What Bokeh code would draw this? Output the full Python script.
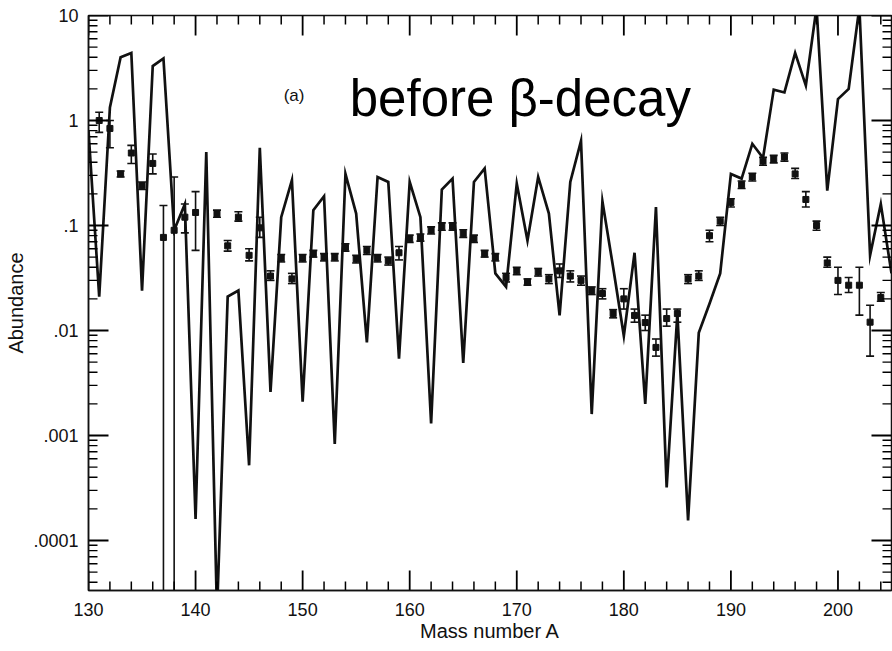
import math
from bokeh.plotting import figure
from bokeh.models import (ColumnDataSource, FixedTicker, CustomJSTickFormatter, Label, Range1d)
from bokeh.embed import file_html
from bokeh.resources import INLINE

# ---- calculated abundances (solid line), one per mass number ----
calc_mass = list(range(130, 206))
calc_abund = [0.8, 0.021, 1.33, 4.0, 4.4, 0.024, 3.3, 3.9, 0.09, 0.16,
              1.6e-4, 0.5, 2e-5, 0.021, 0.024, 5.2e-4, 0.55, 0.0026, 0.12, 0.27,
              0.0021, 0.14, 0.19, 8.3e-4, 0.31, 0.13, 0.0077, 0.29, 0.26, 0.0054,
              0.26, 0.12, 0.0013, 0.22, 0.28, 0.0049, 0.26, 0.35, 0.035, 0.026,
              0.25, 0.072, 0.29, 0.13, 0.0139, 0.26, 0.64, 0.0016, 0.17, 0.04,
              0.0089, 0.055, 0.002, 0.15, 3.2e-4, 0.0145, 1.55e-4, 0.0095, 0.018, 0.035,
              0.31, 0.28, 0.6, 0.44, 1.97, 1.85, 4.4, 2.15, 12.0, 0.215,
              1.6, 2.0, 12.0, 0.052, 0.16, 0.035]

# ---- observed solar r-process abundances (points with error bars) ----
obs_mass = [131, 132, 133, 134, 135, 136, 137, 138, 139, 140,
            142, 143, 144, 145, 146, 147, 148, 149, 150, 151,
            152, 153, 154, 155, 156, 157, 158, 159, 160, 161,
            162, 163, 164, 165, 166, 167, 168, 169, 170, 171,
            172, 173, 174, 175, 176, 177, 178, 179, 180, 181,
            182, 183, 184, 185, 186, 187, 188, 189, 190, 191,
            192, 193, 194, 195, 196, 197, 198, 199, 200, 201,
            202, 203, 204]
obs_abund = [1.0, 0.84, 0.31, 0.49, 0.24, 0.39, 0.077, 0.09, 0.12, 0.133,
             0.13, 0.064, 0.12, 0.052, 0.095, 0.033, 0.049, 0.031, 0.049, 0.054,
             0.05, 0.05, 0.062, 0.048, 0.058, 0.049, 0.046, 0.055, 0.075, 0.077,
             0.09, 0.098, 0.098, 0.084, 0.075, 0.054, 0.05, 0.032, 0.037, 0.029,
             0.036, 0.031, 0.037, 0.033, 0.030, 0.024, 0.0225, 0.0145, 0.02, 0.0139,
             0.0119, 0.0069, 0.013, 0.0145, 0.031, 0.033, 0.08, 0.11, 0.166, 0.245,
             0.29, 0.41, 0.43, 0.45, 0.31, 0.177, 0.1, 0.044, 0.03, 0.027,
             0.027, 0.012, 0.0206]
obs_low = [0.77, 0.55, 0.29, 0.39, 0.22, 0.31, 1e-6, 1e-6, 0.085, 0.058,
           0.12, 0.057, 0.11, 0.046, 0.077, 0.030, 0.045, 0.028, 0.045, 0.050,
           0.046, 0.046, 0.057, 0.044, 0.053, 0.045, 0.042, 0.047, 0.069, 0.071,
           0.083, 0.090, 0.090, 0.077, 0.069, 0.050, 0.046, 0.029, 0.034, 0.027,
           0.033, 0.028, 0.032, 0.029, 0.027, 0.022, 0.020, 0.0132, 0.016, 0.012,
           0.010, 0.0057, 0.011, 0.012, 0.028, 0.030, 0.070, 0.10, 0.15, 0.225,
           0.265, 0.375, 0.395, 0.41, 0.28, 0.15, 0.09, 0.040, 0.022, 0.023,
           0.014, 0.0057, 0.019]
obs_high = [1.2, 1.0, 0.33, 0.58, 0.26, 0.48, 0.155, 0.29, 0.16, 0.21,
            0.14, 0.072, 0.135, 0.060, 0.12, 0.037, 0.053, 0.035, 0.053, 0.058,
            0.054, 0.054, 0.067, 0.052, 0.063, 0.053, 0.050, 0.063, 0.081, 0.083,
            0.097, 0.106, 0.106, 0.091, 0.081, 0.058, 0.054, 0.035, 0.040, 0.031,
            0.039, 0.034, 0.043, 0.037, 0.033, 0.026, 0.025, 0.0158, 0.025, 0.016,
            0.014, 0.0083, 0.016, 0.016, 0.034, 0.037, 0.090, 0.12, 0.18, 0.265,
            0.315, 0.445, 0.465, 0.49, 0.35, 0.21, 0.11, 0.050, 0.040, 0.032,
            0.040, 0.0174, 0.023]

# ---- axis ticks ----
x_major_ticks = [130, 140, 150, 160, 170, 180, 190, 200]
x_minor_ticks = [132, 134, 136, 138, 142, 144, 146, 148, 152, 154, 156, 158,
                 162, 164, 166, 168, 172, 174, 176, 178, 182, 184, 186, 188,
                 192, 194, 196, 198, 202, 204]
y_major_ticks = [1e-4, 1e-3, 1e-2, 1e-1, 1, 10]
y_minor_ticks = [m * d for d in [1e-5, 1e-4, 1e-3, 1e-2, 1e-1, 1] for m in range(2, 10)]

X_MIN, X_MAX = 130, 205
Y_MIN, Y_MAX = 3.34e-5, 10

W, H = 892, 651
B_LEFT, B_RIGHT, B_TOP, B_BOTTOM = 88, 1, 15, 61
FRAME_W = W - B_LEFT - B_RIGHT
FRAME_H = H - B_TOP - B_BOTTOM

INK = "#111111"
FONT = "Liberation Sans"

p = figure(width=W, height=H,
           x_range=Range1d(X_MIN, X_MAX), y_range=Range1d(Y_MIN, Y_MAX),
           y_axis_type="log", output_backend="svg", toolbar_location=None,
           min_border_left=B_LEFT, min_border_right=B_RIGHT,
           min_border_top=B_TOP, min_border_bottom=B_BOTTOM,
           x_axis_label="Mass number A", y_axis_label="Abundance")
p.background_fill_color = "white"
p.border_fill_color = "white"
p.grid.visible = False
p.outline_line_color = INK
p.outline_line_width = 1.5

yfmt = CustomJSTickFormatter(code="""
const e = Math.round(Math.log10(tick));
if (e >= 0) return String(Math.round(Math.pow(10, e)));
return '.' + '0'.repeat(-e - 1) + '1';
""")

for ax in (p.xaxis[0], p.yaxis[0]):
    ax.major_tick_in = 0
    ax.major_tick_out = 0
    ax.minor_tick_in = 0
    ax.minor_tick_out = 0
    ax.axis_line_color = INK
    ax.axis_line_width = 1.5
    ax.major_label_text_font = FONT
    ax.major_label_text_font_size = "18px"
    ax.major_label_text_color = INK
    ax.axis_label_text_font = FONT
    ax.axis_label_text_font_size = "20px"
    ax.axis_label_text_font_style = "normal"
    ax.axis_label_text_color = INK

p.xaxis[0].ticker = FixedTicker(ticks=x_major_ticks)
p.xaxis[0].major_label_standoff = 12
p.xaxis[0].axis_label_standoff = 1
p.yaxis[0].ticker = FixedTicker(ticks=y_major_ticks)
p.yaxis[0].formatter = yfmt
p.yaxis[0].major_label_standoff = 10
p.yaxis[0].axis_label_standoff = 3

# ---- data ----
calc_src = ColumnDataSource(dict(A=calc_mass, y=calc_abund))
p.line("A", "y", source=calc_src, line_color=INK, line_width=2.7, line_join="miter")

obs_src = ColumnDataSource(dict(A=obs_mass, y=obs_abund, lo=obs_low, hi=obs_high))
p.segment(x0="A", y0="lo", x1="A", y1="hi", source=obs_src, line_color=INK, line_width=1.6)
p.scatter("A", "hi", source=obs_src, marker="dash", size=8, line_color=INK, line_width=1.6)
p.scatter("A", "lo", source=obs_src, marker="dash", size=8, line_color=INK, line_width=1.6)
p.scatter("A", "y", source=obs_src, marker="square", size=6, fill_color=INK, line_color=INK)

# ---- inward ticks on all four sides, drawn as short segments from the frame edges ----
MAJ, MIN = 20, 9                      # tick lengths in pixels
px_per_unit_x = FRAME_W / (X_MAX - X_MIN)
px_per_decade = FRAME_H / math.log10(Y_MAX / Y_MIN)

tx0, ty0, tx1, ty1, tw = [], [], [], [], []
for ticks, length, width in ((x_major_ticks, MAJ, 1.8), (x_minor_ticks, MIN, 1.5)):
    f = 10 ** (length / px_per_decade)
    for t in ticks:
        tx0 += [t, t]; tx1 += [t, t]
        ty0 += [Y_MIN, Y_MAX]; ty1 += [Y_MIN * f, Y_MAX / f]
        tw += [width, width]
for ticks, length, width in ((y_major_ticks, MAJ, 1.8), (y_minor_ticks, MIN, 1.4)):
    d = length / px_per_unit_x
    for t in ticks:
        tx0 += [X_MIN, X_MAX]; tx1 += [X_MIN + d, X_MAX - d]
        ty0 += [t, t]; ty1 += [t, t]
        tw += [width, width]
tick_src = ColumnDataSource(dict(x0=tx0, y0=ty0, x1=tx1, y1=ty1, w=tw))
p.segment(x0="x0", y0="y0", x1="x1", y1="y1", line_width="w", source=tick_src, line_color="black")

p.add_layout(Label(x=154.4, y=1.62, text="before β-decay", text_font=FONT,
                   text_font_size="51px", text_color="black", text_baseline="alphabetic"))
p.add_layout(Label(x=149.2, y=1.73, text="(a)", text_align="center", text_font=FONT,
                   text_font_size="17px", text_color=INK, text_baseline="alphabetic"))

open("out.html", "w").write(file_html(p, INLINE))
